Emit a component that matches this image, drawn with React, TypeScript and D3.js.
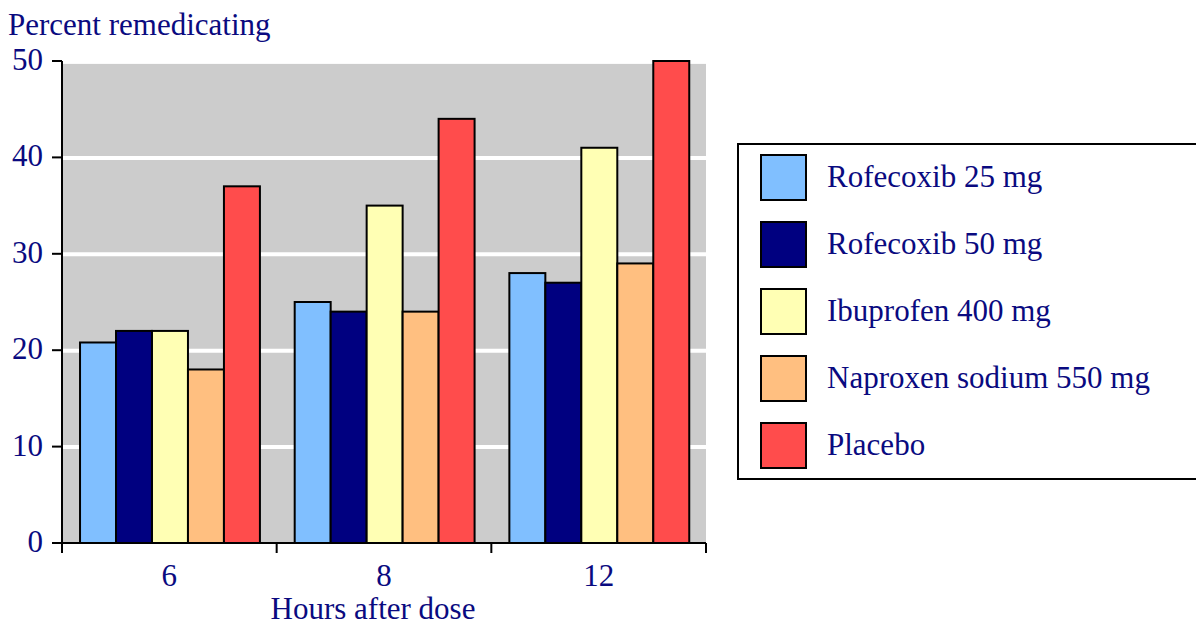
import React from "react";
import * as d3 from "d3";

const categories = ["6", "8", "12"];
const series = ["Rofecoxib 25 mg", "Rofecoxib 50 mg", "Ibuprofen 400 mg", "Naproxen sodium 550 mg", "Placebo"];
const colors = ["#80BFFF", "#000080", "#FFFFB4", "#FFBF80", "#FF4C4C"];
const rofecoxib25 = [20.8, 25, 28];
const rofecoxib50 = [22, 24, 27];
const ibuprofen400 = [22, 35, 41];
const naproxen550 = [18, 24, 29];
const placebo = [37, 44, 50];
const yTicks = [0, 10, 20, 30, 40, 50];

const values = [rofecoxib25, rofecoxib50, ibuprofen400, naproxen550, placebo];

export default function App() {
  const W = 1196, H = 625;
  const left = 62, right = 706, top = 61, bottom = 543;
  const x = d3.scaleBand<string>().domain(categories).range([left, right]).paddingInner(0).paddingOuter(0);
  const bw = x.bandwidth();
  const xInner = d3.scaleBand<number>().domain(d3.range(series.length)).range([bw * 0.084, bw * 0.922]).padding(0);
  const y = d3.scaleLinear().domain([0, 50]).range([bottom, top]);
  const text = "#0A0A80";
  const font = "'Liberation Serif', 'DejaVu Serif', serif";
  const fs = 31;
  const boundaries = [left, ...categories.map((c) => (x(c) as number) + bw)];
  return (
    <svg width={W} height={H} style={{ position: "absolute", left: 0, top: 0 }} fontFamily={font}>
      <rect x={left + 1} y={y(49.7)} width={right - left - 1} height={bottom - y(49.7)} fill="#CCCCCC" />
      {yTicks.filter((t) => t > 0 && t < 50).map((t) => (
        <line key={t} x1={left + 1} x2={right} y1={y(t) + 0.5} y2={y(t) + 0.5} stroke="#FFFFFF" strokeWidth={4} />
      ))}
      {categories.map((c, ci) => (
        <g key={c}>
          {values.map((vals, si) => (
            <rect
              key={si}
              x={(x(c) as number) + (xInner(si) as number)}
              y={y(vals[ci])}
              width={xInner.bandwidth()}
              height={bottom - y(vals[ci])}
              fill={colors[si]}
              stroke="#000"
              strokeWidth={2}
            />
          ))}
        </g>
      ))}
      <line x1={left} x2={left} y1={top} y2={bottom + 10} stroke="#000" strokeWidth={2} />
      <line x1={left - 10} x2={right} y1={bottom} y2={bottom} stroke="#000" strokeWidth={2} />
      {yTicks.map((t) => (
        <g key={t}>
          <line x1={left - 10} x2={left} y1={y(t)} y2={y(t)} stroke="#000" strokeWidth={2} />
          <text x={left - 19} y={y(t) + 9} textAnchor="end" fontSize={fs} fill={text}>{t}</text>
        </g>
      ))}
      {boundaries.map((b, i) => (
        <line key={i} x1={b} x2={b} y1={bottom} y2={bottom + 10} stroke="#000" strokeWidth={2} />
      ))}
      {categories.map((c) => (
        <text key={c} x={(x(c) as number) + bw / 2} y={586} textAnchor="middle" fontSize={fs} fill={text}>{c}</text>
      ))}
      <text x={373} y={619} textAnchor="middle" fontSize={fs} fill={text}>Hours after dose</text>
      <text x={8} y={35} fontSize={fs} fill={text}>Percent remedicating</text>
      <rect x={738} y={144} width={470} height={335} fill="#FFFFFF" stroke="#000" strokeWidth={2} />
      {series.map((s, i) => (
        <g key={s}>
          <rect x={761} y={155 + i * 67} width={45} height={45} fill={colors[i]} stroke="#000" strokeWidth={2} />
          <text x={827} y={187 + i * 67} fontSize={fs} fill={text}>{s}</text>
        </g>
      ))}
    </svg>
  );
}
